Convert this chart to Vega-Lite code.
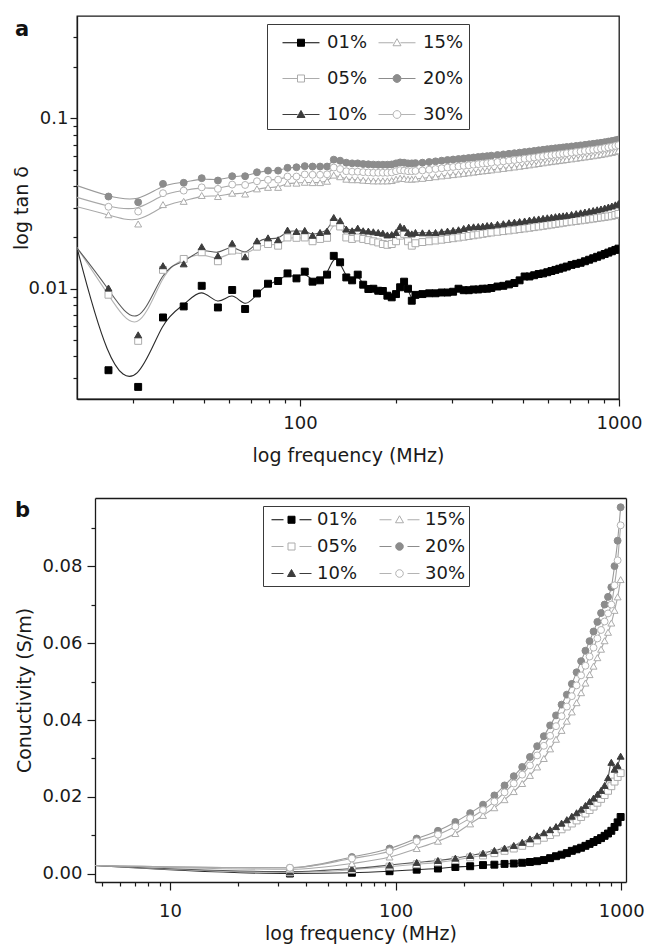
{
"$schema":"https://vega.github.io/schema/vega-lite/v6.json",
"background":"white",
"padding":{"left":11,"top":15,"right":6,"bottom":4},
"config":{
"font":"DejaVu Sans",
"view":{"stroke":"#1a1a1a","strokeWidth":1.3},
"axis":{"labelFont":"DejaVu Sans","labelFontSize":18,"labelColor":"#1a1a1a","titleFont":"DejaVu Sans","titleFontSize":19,"titleFontWeight":"normal","titleColor":"#1a1a1a","domainColor":"#1a1a1a","domainWidth":1.3,"tickColor":"#1a1a1a","tickWidth":1.2,"grid":false,"labelOverlap":false,"labelFlush":false,"labelBound":false},
"legend":{"labelFont":"DejaVu Sans","labelFontSize":18,"labelColor":"#1a1a1a","strokeColor":"#3a3a3a","fillColor":"#ffffff","symbolOpacity":1}
},
"datasets":{
"ta":[
{"f":19.1,"s":"01%","v":0.0244},{"f":25.1,"s":"01%","v":0.00332},{"f":31.1,"s":"01%","v":0.00265},{"f":37.2,"s":"01%","v":0.00678},{"f":43.2,"s":"01%","v":0.00787},{"f":49.2,"s":"01%","v":0.0104},{"f":55.3,"s":"01%","v":0.00776},{"f":61.3,"s":"01%","v":0.00983},{"f":67.3,"s":"01%","v":0.0076},{"f":73.3,"s":"01%","v":0.00938},{"f":79.4,"s":"01%","v":0.0107},{"f":85.4,"s":"01%","v":0.0111},{"f":91.4,"s":"01%","v":0.0123},{"f":97.5,"s":"01%","v":0.0115},{"f":103.5,"s":"01%","v":0.0126},{"f":109.5,"s":"01%","v":0.011},{"f":115.6,"s":"01%","v":0.0112},{"f":121.6,"s":"01%","v":0.0121},{"f":127.6,"s":"01%","v":0.0156},{"f":133.6,"s":"01%","v":0.0143},{"f":139.7,"s":"01%","v":0.01165},{"f":145.7,"s":"01%","v":0.0112},{"f":151.7,"s":"01%","v":0.0121},{"f":157.8,"s":"01%","v":0.01056},{"f":163.8,"s":"01%","v":0.00996},{"f":169.8,"s":"01%","v":0.01},{"f":175.9,"s":"01%","v":0.00973},{"f":181.9,"s":"01%","v":0.0097},{"f":187.9,"s":"01%","v":0.0091},{"f":193.9,"s":"01%","v":0.0089},{"f":200,"s":"01%","v":0.0093},{"f":206,"s":"01%","v":0.0102},{"f":212,"s":"01%","v":0.011},{"f":218.1,"s":"01%","v":0.01},{"f":224.1,"s":"01%","v":0.0085},{"f":230.1,"s":"01%","v":0.0092},{"f":242,"s":"01%","v":0.0093},{"f":254,"s":"01%","v":0.0094},{"f":266,"s":"01%","v":0.0094},{"f":278,"s":"01%","v":0.0095},{"f":290,"s":"01%","v":0.0095},{"f":302,"s":"01%","v":0.0096},{"f":314,"s":"01%","v":0.01},{"f":326,"s":"01%","v":0.0098},{"f":338,"s":"01%","v":0.0098},{"f":350,"s":"01%","v":0.0099},{"f":362,"s":"01%","v":0.0099},{"f":374,"s":"01%","v":0.01},{"f":386,"s":"01%","v":0.01},{"f":398,"s":"01%","v":0.0101},{"f":416,"s":"01%","v":0.0103},{"f":434,"s":"01%","v":0.0104},{"f":452,"s":"01%","v":0.0106},{"f":470,"s":"01%","v":0.0108},{"f":488,"s":"01%","v":0.0112},{"f":506,"s":"01%","v":0.0118},{"f":524,"s":"01%","v":0.0118},{"f":542,"s":"01%","v":0.012},{"f":560,"s":"01%","v":0.0122},{"f":578,"s":"01%","v":0.0123},{"f":596,"s":"01%","v":0.0125},{"f":614,"s":"01%","v":0.0127},{"f":632,"s":"01%","v":0.0129},{"f":650,"s":"01%","v":0.0131},{"f":668,"s":"01%","v":0.0133},{"f":686,"s":"01%","v":0.0135},{"f":710,"s":"01%","v":0.0138},{"f":734,"s":"01%","v":0.014},{"f":758,"s":"01%","v":0.0142},{"f":782,"s":"01%","v":0.0145},{"f":806,"s":"01%","v":0.0148},{"f":830,"s":"01%","v":0.0151},{"f":854,"s":"01%","v":0.0154},{"f":878,"s":"01%","v":0.0157},{"f":902,"s":"01%","v":0.016},{"f":926,"s":"01%","v":0.0163},{"f":950,"s":"01%","v":0.0166},{"f":974,"s":"01%","v":0.0169},{"f":996,"s":"01%","v":0.0172},
{"f":19.1,"s":"05%","v":0.0198},{"f":25.1,"s":"05%","v":0.00922},{"f":31.1,"s":"05%","v":0.00494},{"f":37.2,"s":"05%","v":0.0129},{"f":43.2,"s":"05%","v":0.01496},{"f":49.2,"s":"05%","v":0.01637},{"f":55.3,"s":"05%","v":0.0145},{"f":61.3,"s":"05%","v":0.01675},{"f":67.3,"s":"05%","v":0.01563},{"f":73.3,"s":"05%","v":0.01766},{"f":79.4,"s":"05%","v":0.0183},{"f":85.4,"s":"05%","v":0.0179},{"f":91.4,"s":"05%","v":0.02},{"f":97.5,"s":"05%","v":0.0199},{"f":103.5,"s":"05%","v":0.02},{"f":109.5,"s":"05%","v":0.019},{"f":115.6,"s":"05%","v":0.0196},{"f":121.6,"s":"05%","v":0.0199},{"f":127.6,"s":"05%","v":0.0245},{"f":133.6,"s":"05%","v":0.0232},{"f":139.7,"s":"05%","v":0.02},{"f":145.7,"s":"05%","v":0.0196},{"f":151.7,"s":"05%","v":0.02},{"f":157.8,"s":"05%","v":0.0196},{"f":163.8,"s":"05%","v":0.0193},{"f":169.8,"s":"05%","v":0.019},{"f":175.9,"s":"05%","v":0.0187},{"f":181.9,"s":"05%","v":0.0183},{"f":187.9,"s":"05%","v":0.0181},{"f":193.9,"s":"05%","v":0.0183},{"f":200,"s":"05%","v":0.019},{"f":206,"s":"05%","v":0.0205},{"f":212,"s":"05%","v":0.021},{"f":218.1,"s":"05%","v":0.019},{"f":224.1,"s":"05%","v":0.0179},{"f":230.1,"s":"05%","v":0.0185},{"f":242,"s":"05%","v":0.0188},{"f":254,"s":"05%","v":0.019},{"f":266,"s":"05%","v":0.0192},{"f":278,"s":"05%","v":0.0194},{"f":290,"s":"05%","v":0.0196},{"f":302,"s":"05%","v":0.0198},{"f":314,"s":"05%","v":0.02},{"f":326,"s":"05%","v":0.0202},{"f":338,"s":"05%","v":0.0204},{"f":350,"s":"05%","v":0.0206},{"f":362,"s":"05%","v":0.0208},{"f":374,"s":"05%","v":0.021},{"f":386,"s":"05%","v":0.0212},{"f":398,"s":"05%","v":0.0214},{"f":416,"s":"05%","v":0.0216},{"f":434,"s":"05%","v":0.0218},{"f":452,"s":"05%","v":0.022},{"f":470,"s":"05%","v":0.0222},{"f":488,"s":"05%","v":0.0224},{"f":506,"s":"05%","v":0.0226},{"f":524,"s":"05%","v":0.0228},{"f":542,"s":"05%","v":0.023},{"f":560,"s":"05%","v":0.0232},{"f":578,"s":"05%","v":0.0234},{"f":596,"s":"05%","v":0.0236},{"f":614,"s":"05%","v":0.0238},{"f":632,"s":"05%","v":0.024},{"f":650,"s":"05%","v":0.0242},{"f":668,"s":"05%","v":0.0244},{"f":686,"s":"05%","v":0.0246},{"f":710,"s":"05%","v":0.0248},{"f":734,"s":"05%","v":0.025},{"f":758,"s":"05%","v":0.0252},{"f":782,"s":"05%","v":0.0254},{"f":806,"s":"05%","v":0.0256},{"f":830,"s":"05%","v":0.0258},{"f":854,"s":"05%","v":0.026},{"f":878,"s":"05%","v":0.0262},{"f":902,"s":"05%","v":0.0264},{"f":926,"s":"05%","v":0.0266},{"f":950,"s":"05%","v":0.0268},{"f":974,"s":"05%","v":0.0271},{"f":996,"s":"05%","v":0.0275},
{"f":19.1,"s":"10%","v":0.0194},{"f":25.1,"s":"10%","v":0.0101},{"f":31.1,"s":"10%","v":0.00536},{"f":37.2,"s":"10%","v":0.01365},{"f":43.2,"s":"10%","v":0.014},{"f":49.2,"s":"10%","v":0.01766},{"f":55.3,"s":"10%","v":0.01563},{"f":61.3,"s":"10%","v":0.0185},{"f":67.3,"s":"10%","v":0.0154},{"f":73.3,"s":"10%","v":0.0191},{"f":79.4,"s":"10%","v":0.0199},{"f":85.4,"s":"10%","v":0.0194},{"f":91.4,"s":"10%","v":0.0221},{"f":97.5,"s":"10%","v":0.0217},{"f":103.5,"s":"10%","v":0.022},{"f":109.5,"s":"10%","v":0.0206},{"f":115.6,"s":"10%","v":0.0214},{"f":121.6,"s":"10%","v":0.0218},{"f":127.6,"s":"10%","v":0.0262},{"f":133.6,"s":"10%","v":0.0251},{"f":139.7,"s":"10%","v":0.0224},{"f":145.7,"s":"10%","v":0.0219},{"f":151.7,"s":"10%","v":0.0227},{"f":157.8,"s":"10%","v":0.0219},{"f":163.8,"s":"10%","v":0.0218},{"f":169.8,"s":"10%","v":0.0216},{"f":175.9,"s":"10%","v":0.0214},{"f":181.9,"s":"10%","v":0.0212},{"f":187.9,"s":"10%","v":0.0207},{"f":193.9,"s":"10%","v":0.0208},{"f":200,"s":"10%","v":0.0214},{"f":206,"s":"10%","v":0.0232},{"f":212,"s":"10%","v":0.0227},{"f":218.1,"s":"10%","v":0.0214},{"f":224.1,"s":"10%","v":0.021},{"f":230.1,"s":"10%","v":0.0214},{"f":242,"s":"10%","v":0.0213},{"f":254,"s":"10%","v":0.0213},{"f":266,"s":"10%","v":0.0214},{"f":278,"s":"10%","v":0.0216},{"f":290,"s":"10%","v":0.0218},{"f":302,"s":"10%","v":0.022},{"f":314,"s":"10%","v":0.0222},{"f":326,"s":"10%","v":0.0226},{"f":338,"s":"10%","v":0.023},{"f":350,"s":"10%","v":0.0231},{"f":362,"s":"10%","v":0.0232},{"f":374,"s":"10%","v":0.0233},{"f":386,"s":"10%","v":0.0235},{"f":398,"s":"10%","v":0.0236},{"f":416,"s":"10%","v":0.0239},{"f":434,"s":"10%","v":0.0241},{"f":452,"s":"10%","v":0.0244},{"f":470,"s":"10%","v":0.0246},{"f":488,"s":"10%","v":0.0248},{"f":506,"s":"10%","v":0.025},{"f":524,"s":"10%","v":0.0253},{"f":542,"s":"10%","v":0.0255},{"f":560,"s":"10%","v":0.0257},{"f":578,"s":"10%","v":0.0259},{"f":596,"s":"10%","v":0.0261},{"f":614,"s":"10%","v":0.0263},{"f":632,"s":"10%","v":0.0265},{"f":650,"s":"10%","v":0.0267},{"f":668,"s":"10%","v":0.0268},{"f":686,"s":"10%","v":0.027},{"f":710,"s":"10%","v":0.0273},{"f":734,"s":"10%","v":0.0276},{"f":758,"s":"10%","v":0.0279},{"f":782,"s":"10%","v":0.0282},{"f":806,"s":"10%","v":0.0285},{"f":830,"s":"10%","v":0.0288},{"f":854,"s":"10%","v":0.0291},{"f":878,"s":"10%","v":0.0294},{"f":902,"s":"10%","v":0.0298},{"f":926,"s":"10%","v":0.0302},{"f":950,"s":"10%","v":0.0306},{"f":974,"s":"10%","v":0.0311},{"f":996,"s":"10%","v":0.0316},
{"f":19.1,"s":"15%","v":0.031},{"f":25.1,"s":"15%","v":0.0272},{"f":31.1,"s":"15%","v":0.024},{"f":37.2,"s":"15%","v":0.0312},{"f":43.2,"s":"15%","v":0.0326},{"f":49.2,"s":"15%","v":0.0353},{"f":55.3,"s":"15%","v":0.0348},{"f":61.3,"s":"15%","v":0.0364},{"f":67.3,"s":"15%","v":0.036},{"f":73.3,"s":"15%","v":0.0386},{"f":79.4,"s":"15%","v":0.0394},{"f":85.4,"s":"15%","v":0.0394},{"f":91.4,"s":"15%","v":0.0417},{"f":97.5,"s":"15%","v":0.0417},{"f":103.5,"s":"15%","v":0.0422},{"f":109.5,"s":"15%","v":0.042},{"f":115.6,"s":"15%","v":0.042},{"f":121.6,"s":"15%","v":0.0428},{"f":127.6,"s":"15%","v":0.0465},{"f":133.6,"s":"15%","v":0.0455},{"f":139.7,"s":"15%","v":0.044},{"f":145.7,"s":"15%","v":0.0437},{"f":151.7,"s":"15%","v":0.0437},{"f":157.8,"s":"15%","v":0.0434},{"f":163.8,"s":"15%","v":0.0432},{"f":169.8,"s":"15%","v":0.043},{"f":175.9,"s":"15%","v":0.043},{"f":181.9,"s":"15%","v":0.043},{"f":187.9,"s":"15%","v":0.043},{"f":193.9,"s":"15%","v":0.0432},{"f":200,"s":"15%","v":0.044},{"f":206,"s":"15%","v":0.0446},{"f":212,"s":"15%","v":0.0444},{"f":218.1,"s":"15%","v":0.044},{"f":224.1,"s":"15%","v":0.044},{"f":230.1,"s":"15%","v":0.0442},{"f":242,"s":"15%","v":0.0445},{"f":254,"s":"15%","v":0.045},{"f":266,"s":"15%","v":0.0455},{"f":278,"s":"15%","v":0.046},{"f":290,"s":"15%","v":0.0464},{"f":302,"s":"15%","v":0.0468},{"f":314,"s":"15%","v":0.0472},{"f":326,"s":"15%","v":0.0476},{"f":338,"s":"15%","v":0.048},{"f":350,"s":"15%","v":0.0484},{"f":362,"s":"15%","v":0.0488},{"f":374,"s":"15%","v":0.0492},{"f":386,"s":"15%","v":0.0495},{"f":398,"s":"15%","v":0.0499},{"f":416,"s":"15%","v":0.0504},{"f":434,"s":"15%","v":0.0509},{"f":452,"s":"15%","v":0.0514},{"f":470,"s":"15%","v":0.0519},{"f":488,"s":"15%","v":0.0524},{"f":506,"s":"15%","v":0.0529},{"f":524,"s":"15%","v":0.0534},{"f":542,"s":"15%","v":0.0539},{"f":560,"s":"15%","v":0.0544},{"f":578,"s":"15%","v":0.0549},{"f":596,"s":"15%","v":0.0554},{"f":614,"s":"15%","v":0.0558},{"f":632,"s":"15%","v":0.0562},{"f":650,"s":"15%","v":0.0566},{"f":668,"s":"15%","v":0.057},{"f":686,"s":"15%","v":0.0574},{"f":710,"s":"15%","v":0.0579},{"f":734,"s":"15%","v":0.0584},{"f":758,"s":"15%","v":0.0589},{"f":782,"s":"15%","v":0.0594},{"f":806,"s":"15%","v":0.0599},{"f":830,"s":"15%","v":0.0604},{"f":854,"s":"15%","v":0.0609},{"f":878,"s":"15%","v":0.0614},{"f":902,"s":"15%","v":0.062},{"f":926,"s":"15%","v":0.0626},{"f":950,"s":"15%","v":0.0632},{"f":974,"s":"15%","v":0.0639},{"f":996,"s":"15%","v":0.0646},
{"f":19.1,"s":"20%","v":0.0416},{"f":25.1,"s":"20%","v":0.0348},{"f":31.1,"s":"20%","v":0.0322},{"f":37.2,"s":"20%","v":0.0413},{"f":43.2,"s":"20%","v":0.0419},{"f":49.2,"s":"20%","v":0.0446},{"f":55.3,"s":"20%","v":0.0432},{"f":61.3,"s":"20%","v":0.0458},{"f":67.3,"s":"20%","v":0.0458},{"f":73.3,"s":"20%","v":0.0483},{"f":79.4,"s":"20%","v":0.0494},{"f":85.4,"s":"20%","v":0.0494},{"f":91.4,"s":"20%","v":0.0513},{"f":97.5,"s":"20%","v":0.0517},{"f":103.5,"s":"20%","v":0.0525},{"f":109.5,"s":"20%","v":0.0522},{"f":115.6,"s":"20%","v":0.0522},{"f":121.6,"s":"20%","v":0.0522},{"f":127.6,"s":"20%","v":0.0573},{"f":133.6,"s":"20%","v":0.0565},{"f":139.7,"s":"20%","v":0.055},{"f":145.7,"s":"20%","v":0.0545},{"f":151.7,"s":"20%","v":0.0545},{"f":157.8,"s":"20%","v":0.054},{"f":163.8,"s":"20%","v":0.0538},{"f":169.8,"s":"20%","v":0.0536},{"f":175.9,"s":"20%","v":0.0535},{"f":181.9,"s":"20%","v":0.0535},{"f":187.9,"s":"20%","v":0.0535},{"f":193.9,"s":"20%","v":0.0537},{"f":200,"s":"20%","v":0.0545},{"f":206,"s":"20%","v":0.0552},{"f":212,"s":"20%","v":0.055},{"f":218.1,"s":"20%","v":0.0545},{"f":224.1,"s":"20%","v":0.0545},{"f":230.1,"s":"20%","v":0.0547},{"f":242,"s":"20%","v":0.055},{"f":254,"s":"20%","v":0.0555},{"f":266,"s":"20%","v":0.056},{"f":278,"s":"20%","v":0.0565},{"f":290,"s":"20%","v":0.057},{"f":302,"s":"20%","v":0.0574},{"f":314,"s":"20%","v":0.0578},{"f":326,"s":"20%","v":0.0582},{"f":338,"s":"20%","v":0.0586},{"f":350,"s":"20%","v":0.059},{"f":362,"s":"20%","v":0.0594},{"f":374,"s":"20%","v":0.0598},{"f":386,"s":"20%","v":0.0601},{"f":398,"s":"20%","v":0.0605},{"f":416,"s":"20%","v":0.061},{"f":434,"s":"20%","v":0.0615},{"f":452,"s":"20%","v":0.062},{"f":470,"s":"20%","v":0.0625},{"f":488,"s":"20%","v":0.063},{"f":506,"s":"20%","v":0.0635},{"f":524,"s":"20%","v":0.064},{"f":542,"s":"20%","v":0.0645},{"f":560,"s":"20%","v":0.065},{"f":578,"s":"20%","v":0.0655},{"f":596,"s":"20%","v":0.066},{"f":614,"s":"20%","v":0.0664},{"f":632,"s":"20%","v":0.0668},{"f":650,"s":"20%","v":0.0672},{"f":668,"s":"20%","v":0.0676},{"f":686,"s":"20%","v":0.068},{"f":710,"s":"20%","v":0.0685},{"f":734,"s":"20%","v":0.069},{"f":758,"s":"20%","v":0.0695},{"f":782,"s":"20%","v":0.07},{"f":806,"s":"20%","v":0.0705},{"f":830,"s":"20%","v":0.071},{"f":854,"s":"20%","v":0.0715},{"f":878,"s":"20%","v":0.072},{"f":902,"s":"20%","v":0.0726},{"f":926,"s":"20%","v":0.0732},{"f":950,"s":"20%","v":0.0738},{"f":974,"s":"20%","v":0.0745},{"f":996,"s":"20%","v":0.0752},
{"f":19.1,"s":"30%","v":0.0353},{"f":25.1,"s":"30%","v":0.0303},{"f":31.1,"s":"30%","v":0.0284},{"f":37.2,"s":"30%","v":0.0364},{"f":43.2,"s":"30%","v":0.0377},{"f":49.2,"s":"30%","v":0.0394},{"f":55.3,"s":"30%","v":0.0386},{"f":61.3,"s":"30%","v":0.0409},{"f":67.3,"s":"30%","v":0.0407},{"f":73.3,"s":"30%","v":0.0428},{"f":79.4,"s":"30%","v":0.0436},{"f":85.4,"s":"30%","v":0.0437},{"f":91.4,"s":"30%","v":0.0456},{"f":97.5,"s":"30%","v":0.0456},{"f":103.5,"s":"30%","v":0.0469},{"f":109.5,"s":"30%","v":0.0467},{"f":115.6,"s":"30%","v":0.0467},{"f":121.6,"s":"30%","v":0.047},{"f":127.6,"s":"30%","v":0.0515},{"f":133.6,"s":"30%","v":0.0505},{"f":139.7,"s":"30%","v":0.049},{"f":145.7,"s":"30%","v":0.0487},{"f":151.7,"s":"30%","v":0.0487},{"f":157.8,"s":"30%","v":0.0484},{"f":163.8,"s":"30%","v":0.0482},{"f":169.8,"s":"30%","v":0.048},{"f":175.9,"s":"30%","v":0.048},{"f":181.9,"s":"30%","v":0.048},{"f":187.9,"s":"30%","v":0.048},{"f":193.9,"s":"30%","v":0.0482},{"f":200,"s":"30%","v":0.049},{"f":206,"s":"30%","v":0.0497},{"f":212,"s":"30%","v":0.0494},{"f":218.1,"s":"30%","v":0.049},{"f":224.1,"s":"30%","v":0.049},{"f":230.1,"s":"30%","v":0.0492},{"f":242,"s":"30%","v":0.0495},{"f":254,"s":"30%","v":0.05},{"f":266,"s":"30%","v":0.0505},{"f":278,"s":"30%","v":0.051},{"f":290,"s":"30%","v":0.0515},{"f":302,"s":"30%","v":0.0519},{"f":314,"s":"30%","v":0.0523},{"f":326,"s":"30%","v":0.0527},{"f":338,"s":"30%","v":0.0531},{"f":350,"s":"30%","v":0.0535},{"f":362,"s":"30%","v":0.0539},{"f":374,"s":"30%","v":0.0543},{"f":386,"s":"30%","v":0.0546},{"f":398,"s":"30%","v":0.055},{"f":416,"s":"30%","v":0.0555},{"f":434,"s":"30%","v":0.056},{"f":452,"s":"30%","v":0.0565},{"f":470,"s":"30%","v":0.057},{"f":488,"s":"30%","v":0.0575},{"f":506,"s":"30%","v":0.058},{"f":524,"s":"30%","v":0.0585},{"f":542,"s":"30%","v":0.059},{"f":560,"s":"30%","v":0.0595},{"f":578,"s":"30%","v":0.06},{"f":596,"s":"30%","v":0.0605},{"f":614,"s":"30%","v":0.0609},{"f":632,"s":"30%","v":0.0613},{"f":650,"s":"30%","v":0.0617},{"f":668,"s":"30%","v":0.0621},{"f":686,"s":"30%","v":0.0625},{"f":710,"s":"30%","v":0.063},{"f":734,"s":"30%","v":0.0635},{"f":758,"s":"30%","v":0.064},{"f":782,"s":"30%","v":0.0645},{"f":806,"s":"30%","v":0.065},{"f":830,"s":"30%","v":0.0655},{"f":854,"s":"30%","v":0.066},{"f":878,"s":"30%","v":0.0665},{"f":902,"s":"30%","v":0.0671},{"f":926,"s":"30%","v":0.0677},{"f":950,"s":"30%","v":0.0683},{"f":974,"s":"30%","v":0.069},{"f":996,"s":"30%","v":0.0697}
],
"tb":[
{"f":4.65,"s":"01%","v":0.0022},{"f":34,"s":"01%","v":0.0001},{"f":64,"s":"01%","v":0.0003},{"f":94,"s":"01%","v":0.0007},{"f":124,"s":"01%","v":0.0011},{"f":154,"s":"01%","v":0.0014},{"f":184,"s":"01%","v":0.0018},{"f":214,"s":"01%","v":0.002},{"f":244,"s":"01%","v":0.0023},{"f":274,"s":"01%","v":0.0024},{"f":304,"s":"01%","v":0.0026},{"f":334,"s":"01%","v":0.0027},{"f":364,"s":"01%","v":0.0029},{"f":394,"s":"01%","v":0.0031},{"f":424,"s":"01%","v":0.0033},{"f":454,"s":"01%","v":0.0036},{"f":484,"s":"01%","v":0.0041},{"f":514,"s":"01%","v":0.0046},{"f":544,"s":"01%","v":0.005},{"f":574,"s":"01%","v":0.0054},{"f":604,"s":"01%","v":0.006},{"f":634,"s":"01%","v":0.0064},{"f":664,"s":"01%","v":0.0068},{"f":694,"s":"01%","v":0.0073},{"f":724,"s":"01%","v":0.0078},{"f":754,"s":"01%","v":0.0083},{"f":784,"s":"01%","v":0.0088},{"f":814,"s":"01%","v":0.0093},{"f":844,"s":"01%","v":0.0099},{"f":874,"s":"01%","v":0.0105},{"f":904,"s":"01%","v":0.0112},{"f":934,"s":"01%","v":0.0122},{"f":964,"s":"01%","v":0.0134},{"f":994,"s":"01%","v":0.0148},
{"f":4.65,"s":"05%","v":0.0022},{"f":34,"s":"05%","v":0.0004},{"f":64,"s":"05%","v":0.0011},{"f":94,"s":"05%","v":0.0019},{"f":124,"s":"05%","v":0.0025},{"f":154,"s":"05%","v":0.003},{"f":184,"s":"05%","v":0.0036},{"f":214,"s":"05%","v":0.0043},{"f":244,"s":"05%","v":0.0048},{"f":274,"s":"05%","v":0.0054},{"f":304,"s":"05%","v":0.006},{"f":334,"s":"05%","v":0.0066},{"f":364,"s":"05%","v":0.0073},{"f":394,"s":"05%","v":0.008},{"f":424,"s":"05%","v":0.0087},{"f":454,"s":"05%","v":0.0094},{"f":484,"s":"05%","v":0.0101},{"f":514,"s":"05%","v":0.0108},{"f":544,"s":"05%","v":0.0116},{"f":574,"s":"05%","v":0.0123},{"f":604,"s":"05%","v":0.0131},{"f":634,"s":"05%","v":0.0139},{"f":664,"s":"05%","v":0.0148},{"f":694,"s":"05%","v":0.0157},{"f":724,"s":"05%","v":0.0166},{"f":754,"s":"05%","v":0.0175},{"f":784,"s":"05%","v":0.0185},{"f":814,"s":"05%","v":0.0195},{"f":844,"s":"05%","v":0.0205},{"f":874,"s":"05%","v":0.0216},{"f":904,"s":"05%","v":0.0228},{"f":934,"s":"05%","v":0.024},{"f":964,"s":"05%","v":0.0252},{"f":994,"s":"05%","v":0.0262},
{"f":4.65,"s":"10%","v":0.0022},{"f":34,"s":"10%","v":0.0006},{"f":64,"s":"10%","v":0.0014},{"f":94,"s":"10%","v":0.0023},{"f":124,"s":"10%","v":0.003},{"f":154,"s":"10%","v":0.0035},{"f":184,"s":"10%","v":0.0041},{"f":214,"s":"10%","v":0.0048},{"f":244,"s":"10%","v":0.0054},{"f":274,"s":"10%","v":0.0061},{"f":304,"s":"10%","v":0.0067},{"f":334,"s":"10%","v":0.0074},{"f":364,"s":"10%","v":0.0082},{"f":394,"s":"10%","v":0.0091},{"f":424,"s":"10%","v":0.0099},{"f":454,"s":"10%","v":0.0107},{"f":484,"s":"10%","v":0.0115},{"f":514,"s":"10%","v":0.0123},{"f":544,"s":"10%","v":0.0132},{"f":574,"s":"10%","v":0.0141},{"f":604,"s":"10%","v":0.015},{"f":634,"s":"10%","v":0.0159},{"f":664,"s":"10%","v":0.0168},{"f":694,"s":"10%","v":0.0178},{"f":724,"s":"10%","v":0.0188},{"f":754,"s":"10%","v":0.0197},{"f":784,"s":"10%","v":0.0207},{"f":814,"s":"10%","v":0.0217},{"f":844,"s":"10%","v":0.023},{"f":874,"s":"10%","v":0.025},{"f":904,"s":"10%","v":0.029},{"f":934,"s":"10%","v":0.0272},{"f":964,"s":"10%","v":0.0282},{"f":994,"s":"10%","v":0.0306},
{"f":4.65,"s":"15%","v":0.0022},{"f":34,"s":"15%","v":0.0012},{"f":64,"s":"15%","v":0.0027},{"f":94,"s":"15%","v":0.0044},{"f":124,"s":"15%","v":0.0066},{"f":154,"s":"15%","v":0.0085},{"f":184,"s":"15%","v":0.0105},{"f":214,"s":"15%","v":0.013},{"f":244,"s":"15%","v":0.0152},{"f":274,"s":"15%","v":0.0172},{"f":304,"s":"15%","v":0.0193},{"f":334,"s":"15%","v":0.0214},{"f":364,"s":"15%","v":0.0235},{"f":394,"s":"15%","v":0.0256},{"f":424,"s":"15%","v":0.0278},{"f":454,"s":"15%","v":0.03},{"f":484,"s":"15%","v":0.0325},{"f":514,"s":"15%","v":0.035},{"f":544,"s":"15%","v":0.0373},{"f":574,"s":"15%","v":0.0397},{"f":604,"s":"15%","v":0.0421},{"f":634,"s":"15%","v":0.0445},{"f":664,"s":"15%","v":0.0471},{"f":694,"s":"15%","v":0.0496},{"f":724,"s":"15%","v":0.0518},{"f":754,"s":"15%","v":0.054},{"f":784,"s":"15%","v":0.0562},{"f":814,"s":"15%","v":0.0584},{"f":844,"s":"15%","v":0.0606},{"f":874,"s":"15%","v":0.0628},{"f":904,"s":"15%","v":0.0652},{"f":934,"s":"15%","v":0.0685},{"f":964,"s":"15%","v":0.072},{"f":994,"s":"15%","v":0.0765},
{"f":4.65,"s":"20%","v":0.0022},{"f":34,"s":"20%","v":0.0016},{"f":64,"s":"20%","v":0.0044},{"f":94,"s":"20%","v":0.0066},{"f":124,"s":"20%","v":0.0092},{"f":154,"s":"20%","v":0.0112},{"f":184,"s":"20%","v":0.0135},{"f":214,"s":"20%","v":0.0158},{"f":244,"s":"20%","v":0.018},{"f":274,"s":"20%","v":0.0204},{"f":304,"s":"20%","v":0.023},{"f":334,"s":"20%","v":0.0254},{"f":364,"s":"20%","v":0.0278},{"f":394,"s":"20%","v":0.0304},{"f":424,"s":"20%","v":0.0332},{"f":454,"s":"20%","v":0.0358},{"f":484,"s":"20%","v":0.0386},{"f":514,"s":"20%","v":0.0412},{"f":544,"s":"20%","v":0.044},{"f":574,"s":"20%","v":0.0466},{"f":604,"s":"20%","v":0.0494},{"f":634,"s":"20%","v":0.0524},{"f":664,"s":"20%","v":0.0553},{"f":694,"s":"20%","v":0.058},{"f":724,"s":"20%","v":0.0605},{"f":754,"s":"20%","v":0.063},{"f":784,"s":"20%","v":0.0655},{"f":814,"s":"20%","v":0.0678},{"f":844,"s":"20%","v":0.07},{"f":874,"s":"20%","v":0.072},{"f":904,"s":"20%","v":0.0745},{"f":934,"s":"20%","v":0.08},{"f":964,"s":"20%","v":0.0866},{"f":994,"s":"20%","v":0.0953},
{"f":4.65,"s":"30%","v":0.0022},{"f":34,"s":"30%","v":0.0016},{"f":64,"s":"30%","v":0.004},{"f":94,"s":"30%","v":0.0059},{"f":124,"s":"30%","v":0.0085},{"f":154,"s":"30%","v":0.0102},{"f":184,"s":"30%","v":0.0123},{"f":214,"s":"30%","v":0.0145},{"f":244,"s":"30%","v":0.0166},{"f":274,"s":"30%","v":0.0188},{"f":304,"s":"30%","v":0.0212},{"f":334,"s":"30%","v":0.0235},{"f":364,"s":"30%","v":0.0258},{"f":394,"s":"30%","v":0.0282},{"f":424,"s":"30%","v":0.0308},{"f":454,"s":"30%","v":0.0333},{"f":484,"s":"30%","v":0.0359},{"f":514,"s":"30%","v":0.0384},{"f":544,"s":"30%","v":0.041},{"f":574,"s":"30%","v":0.0435},{"f":604,"s":"30%","v":0.0462},{"f":634,"s":"30%","v":0.049},{"f":664,"s":"30%","v":0.0516},{"f":694,"s":"30%","v":0.0541},{"f":724,"s":"30%","v":0.0565},{"f":754,"s":"30%","v":0.0588},{"f":784,"s":"30%","v":0.0612},{"f":814,"s":"30%","v":0.0634},{"f":844,"s":"30%","v":0.0656},{"f":874,"s":"30%","v":0.0677},{"f":904,"s":"30%","v":0.07},{"f":934,"s":"30%","v":0.075},{"f":964,"s":"30%","v":0.0815},{"f":994,"s":"30%","v":0.0906}
]
},
"spacing":32,
"resolve":{"scale":{"x":"independent","y":"independent","color":"independent","fill":"independent","stroke":"independent","shape":"independent"},"legend":{"color":"independent","fill":"independent","stroke":"independent","shape":"independent"}},
"vconcat":[
{
"width":542,"height":383,
"data":{"name":"ta"},
"title":{"text":"a","anchor":"start","frame":"group","orient":"top","offset":-41,"dx":-62,"fontSize":21,"fontWeight":"bold","font":"DejaVu Sans","baseline":"alphabetic","color":"#111111"},
"layer":[
{"mark":{"type":"line","interpolate":"basis","strokeWidth":1.1,"clip":true},
"encoding":{
"x":{"field":"f","type":"quantitative","scale":{"type":"log","domain":[20,1000],"nice":false},
"axis":{"title":"log frequency (MHz)","values":[30,40,50,60,70,80,90,100,200,300,400,500,600,700,800,900,1000],"labelExpr":"datum.value == 100 ? '100' : (datum.value == 1000 ? '1000' : '')","tickSize":{"condition":{"test":"datum.value == 100 || datum.value == 1000","value":7},"value":4},"labelPadding":8,"titleY":62,"titleBaseline":"alphabetic"}},
"y":{"field":"v","type":"quantitative","scale":{"type":"log","domain":[0.00225,0.4],"nice":false},
"axis":{"title":"log tan δ","values":[0.003,0.004,0.005,0.006,0.007,0.008,0.009,0.01,0.02,0.03,0.04,0.05,0.06,0.07,0.08,0.09,0.1,0.2,0.3],"labelExpr":"datum.value == 0.1 ? '0.1' : (datum.value == 0.01 ? '0.01' : '')","tickSize":{"condition":{"test":"datum.value == 0.1 || datum.value == 0.01","value":7},"value":4},"labelPadding":2,"titleX":-46}},
"color":{"field":"s","type":"nominal","scale":{"domain":["30%","20%","15%","10%","05%","01%"],"range":["#a8a8a8","#9a9a9a","#a8a8a8","#5a5a5a","#b4b4b4","#2a2a2a"]},"legend":null}
}},
{"mark":{"type":"point","size":48,"strokeWidth":1,"opacity":1,"clip":true},
"encoding":{
"x":{"field":"f","type":"quantitative"},
"y":{"field":"v","type":"quantitative"},
"shape":{"field":"s","type":"nominal","scale":{"domain":["30%","20%","15%","10%","05%","01%"],"range":["circle","circle","triangle-up","triangle-up","square","square"]},"legend":null},
"stroke":{"field":"s","type":"nominal","scale":{"domain":["01%","05%","10%","15%","20%","30%"],"range":["#000000","#acacac","#3c3c3c","#acacac","#8c8c8c","#b4b4b4"]}},
"fill":{"field":"s","type":"nominal","scale":{"domain":["01%","05%","10%","15%","20%","30%"],"range":["#000000","#ffffff","#3c3c3c","#ffffff","#8c8c8c","#ffffff"]},
"legend":{"title":null,"orient":"none","legendX":190,"legendY":8,"columns":2,"padding":5,"symbolOffset":10,"symbolSize":676,"symbolStrokeWidth":1,"labelOffset":18,"columnPadding":0,"rowPadding":13,
"symbolType":{"expr":"datum.value=='01%'||datum.value=='05%'?'M-1,0H0.154M0.692,0H1.846M0.154,-0.27H0.692V0.27H0.154Z':(datum.value=='10%'||datum.value=='15%'?'M-1,0H0.154M0.692,0H1.846M0.423,-0.31L0.73,0.23H0.116Z':'M-1,0H0.123M0.723,0H1.846M0.123,0A0.3,0.3,0,1,0,0.723,0A0.3,0.3,0,1,0,0.123,0Z')"}}}
}}
]
},
{
"width":549,"height":384,
"data":{"name":"tb"},
"view":{"stroke":null},
"title":{"text":"b","anchor":"start","frame":"group","orient":"top","offset":-40,"dx":-62,"fontSize":21,"fontWeight":"bold","font":"DejaVu Sans","baseline":"alphabetic","color":"#111111"},
"resolve":{"axis":{"x":"independent","y":"independent"}},
"layer":[
{"mark":{"type":"line","interpolate":"monotone","strokeWidth":1.1,"clip":true},
"encoding":{
"x":{"field":"f","type":"quantitative","scale":{"type":"log","domain":[4.65,1050],"range":[18,549],"nice":false},
"axis":{"title":"log frequency (MHz)","values":[5,6,7,8,9,10,20,30,40,50,60,70,80,90,100,200,300,400,500,600,700,800,900,1000],"labelExpr":"datum.value == 10 ? '10' : (datum.value == 100 ? '100' : (datum.value == 1000 ? '1000' : ''))","tickSize":{"condition":{"test":"datum.value == 10 || datum.value == 100 || datum.value == 1000","value":8},"value":4},"labelPadding":12,"titleY":57,"titleBaseline":"alphabetic"}},
"y":{"field":"v","type":"quantitative","scale":{"domain":[-0.0021,0.0977],"nice":false,"zero":false},
"axis":{"title":"Conuctivity (S/m)","offset":-18,"values":[0,0.01,0.02,0.03,0.04,0.05,0.06,0.07,0.08,0.09],"labelExpr":"round(datum.value*100) % 2 == 0 ? format(datum.value, '.2f') : ''","tickSize":{"condition":{"test":"round(datum.value*100) % 2 == 0","value":8},"value":4},"labelPadding":5,"titleX":-61}},
"color":{"field":"s","type":"nominal","scale":{"domain":["30%","20%","15%","10%","05%","01%"],"range":["#a8a8a8","#9a9a9a","#a8a8a8","#5a5a5a","#b4b4b4","#2a2a2a"]},"legend":null}
}},
{"transform":[{"filter":"datum.f > 10"}],
"mark":{"type":"point","size":48,"strokeWidth":1,"opacity":1,"clip":true},
"encoding":{
"x":{"field":"f","type":"quantitative","axis":{"orient":"top","labels":false,"ticks":false,"title":null,"domain":true}},
"y":{"field":"v","type":"quantitative","axis":{"orient":"right","labels":false,"ticks":false,"title":null,"domain":true}},
"shape":{"field":"s","type":"nominal","scale":{"domain":["30%","20%","15%","10%","05%","01%"],"range":["circle","circle","triangle-up","triangle-up","square","square"]},"legend":null},
"stroke":{"field":"s","type":"nominal","scale":{"domain":["01%","05%","10%","15%","20%","30%"],"range":["#000000","#acacac","#3c3c3c","#acacac","#8c8c8c","#b4b4b4"]}},
"fill":{"field":"s","type":"nominal","scale":{"domain":["01%","05%","10%","15%","20%","30%"],"range":["#000000","#ffffff","#3c3c3c","#ffffff","#8c8c8c","#ffffff"]},
"legend":{"title":null,"orient":"none","legendX":186,"legendY":8,"columns":2,"padding":3,"symbolOffset":5,"symbolSize":400,"symbolStrokeWidth":1,"labelOffset":25,"columnPadding":16,"rowPadding":7,
"symbolType":{"expr":"datum.value=='01%'||datum.value=='05%'?'M-1,0H0.2M1.8,0H3M0.65,-0.35H1.35V0.35H0.65Z':(datum.value=='10%'||datum.value=='15%'?'M-1,0H0.2M1.8,0H3M1,-0.4L1.4,0.3H0.6Z':'M-1,0H0.2M1.8,0H3M0.62,0A0.38,0.38,0,1,0,1.38,0A0.38,0.38,0,1,0,0.62,0Z')"}}}
}}
]
}
]
}
